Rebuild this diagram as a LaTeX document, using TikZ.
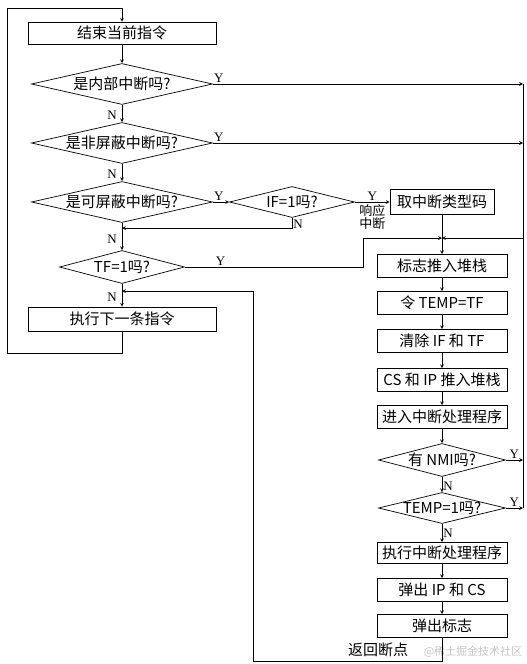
\documentclass[tikz,border=0pt]{standalone}
\usepackage{fontspec}
\setmainfont{Noto Sans CJK SC}
\newfontfamily\ltn{Liberation Serif}
\usetikzlibrary{shapes.geometric}

\begin{document}
\begin{tikzpicture}
    [>=stealth, x=1pt, y=1pt, line width=0.7pt,
     every node/.style={font=\fontsize{15}{18}\selectfont},
     proc/.style={draw, rectangle, inner sep=0pt, minimum height=23pt},
     ask/.style={draw, diamond, aspect=4, inner sep=-4pt},
     yn/.style={font=\fontsize{13}{13}\selectfont\ltn, inner sep=1pt}]
  \useasboundingbox (0,0) rectangle (527,-664);

  % main loop
  \node[proc, minimum width=188pt, minimum height=22pt] (endins) at (122,-33) {结束当前指令};
  \node[ask, minimum width=181pt, minimum height=41pt] (isint) [node distance=51pt, below of=endins] {是内部中断吗?};
  \node[ask, minimum width=181pt, minimum height=41pt] (isnmi) [node distance=59pt, below of=isint] {是非屏蔽中断吗?};
  \node[ask, minimum width=181pt, minimum height=41pt] (isintr) [node distance=59pt, below of=isnmi] {是可屏蔽中断吗?};
  \node[ask, minimum width=125pt, minimum height=33pt] (tfq) [node distance=65pt, below of=isintr] {TF=1吗?};
  \node[proc, minimum width=188pt, minimum height=24pt] (nextins) [node distance=52pt, below of=tfq] {执行下一条指令};

  \node[ask, minimum width=125pt, minimum height=31pt] (ifq) [node distance=170pt, right of=isintr] {IF=1吗?};
  \node[proc, minimum width=104pt, minimum height=25pt] (gettype) [node distance=150pt, right of=ifq] {取中断类型码};

  % interrupt response
  \node[proc, minimum width=130pt] (pushf) [node distance=64pt, below of=gettype] {标志推入堆栈};
  \node[proc, minimum width=130pt] (settemp) [node distance=37pt, below of=pushf] {令 TEMP=TF};
  \node[proc, minimum width=130pt] (clrf) [node distance=38pt, below of=settemp] {清除 IF 和 TF};
  \node[proc, minimum width=130pt] (pushcs) [node distance=39pt, below of=clrf] {CS 和 IP 推入堆栈};
  \node[proc, minimum width=130pt] (enterisr) [node distance=37pt, below of=pushcs] {进入中断处理程序};
  \node[ask, minimum width=127pt, minimum height=33pt] (nmiq) [node distance=43pt, below of=enterisr] {有 NMI吗?};
  \node[ask, minimum width=127pt, minimum height=31pt] (tempq) [node distance=48pt, below of=nmiq] {TEMP=1吗?};
  \node[proc, minimum width=130pt, minimum height=21pt] (runisr) [node distance=45pt, below of=tempq] {执行中断处理程序};
  \node[proc, minimum width=130pt] (popip) [node distance=37pt, below of=runisr] {弹出 IP 和 CS};
  \node[proc, minimum width=130pt] (popf) [node distance=36pt, below of=popip] {弹出标志};

  \node (ret) at (378,-650) {返回断点};
  \node[text=gray!45, font=\fontsize{11}{11}\selectfont] (mark) at (473,-652) {@稀土掘金技术社区};

  \coordinate (lp) at (7,-8);
  \coordinate (rr) at (523,-238);
  \coordinate (jn) at (442,-238);
  \coordinate (lj) at (363,-238);
  \coordinate (mq) at (122,-228);
  \coordinate (rb) at (253,-291);
  \coordinate (rj) at (122,-291);

  \draw[->] (nextins.south) -- ++(0,-22) -| (lp) -| (endins.north);
  \draw[->] (endins) -- (isint);
  \draw[->] (isint) -- node[yn, pos=0.6, left=4pt] {N} (isnmi);
  \draw[->] (isnmi) -- node[yn, pos=0.6, left=4pt] {N} (isintr);
  \draw[->] (isintr) -- node[yn, pos=0.6, left=4pt] {N} (tfq);
  \draw[->] (tfq) -- node[yn, pos=0.58, left=4pt] {N} (nextins);

  \draw[->] (isint.east) node[yn, above right] {Y} -- (isint.east -| rr);
  \draw[->] (isnmi.east) node[yn, above right] {Y} -- (isnmi.east -| rr);
  \draw (isint.east -| rr) -- (tempq.east -| rr);
  \draw[->] (rr) -- (jn);
  \draw[->] (isintr.east) node[yn, above right] {Y} -- (ifq.west);
  \draw[->] (tfq.east) -- node[yn, pos=0.2, above] {Y} (tfq.east -| lj) -- (lj) -- (jn);
  \draw[->] (ifq.east) -- node[yn, above] {Y}
    node[below, font=\fontsize{13}{13}\selectfont, align=center, inner sep=2pt] {响应\\中断} (gettype.west);
  \draw[->] (ifq.south) |- node[yn, pos=0.3, right] {N} (mq);
  \draw[->] (gettype) -- (pushf);

  \draw[->] (pushf) -- (settemp);
  \draw[->] (settemp) -- (clrf);
  \draw[->] (clrf) -- (pushcs);
  \draw[->] (pushcs) -- (enterisr);
  \draw[->] (enterisr) -- (nmiq);
  \draw[->] (nmiq) -- node[yn, pos=0.6, right] {N} (tempq);
  \draw[->] (tempq) -- node[yn, pos=0.5, right] {N} (runisr);
  \draw[->] (nmiq.east) -- node[yn, above] {Y} (nmiq.east -| rr);
  \draw[->] (tempq.east) -- node[yn, above] {Y} (tempq.east -| rr);
  \draw[->] (runisr) -- (popip);
  \draw[->] (popip) -- (popf);
  \draw[->] (popf.south) -- ++(0,-23) -| (rb) -- (rj);
\end{tikzpicture}
\end{document}
